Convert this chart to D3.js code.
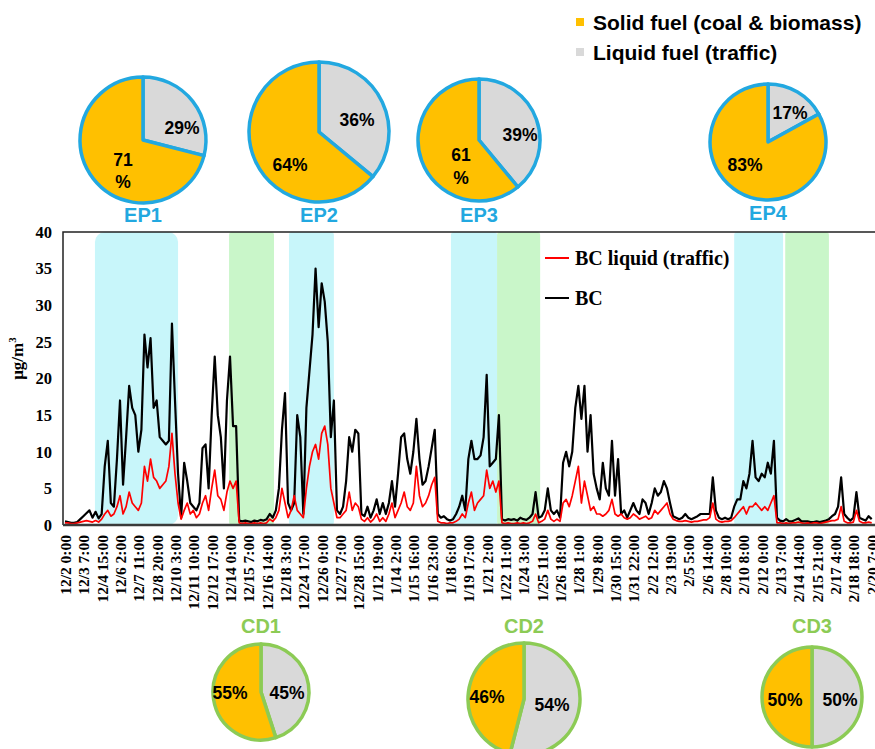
<!DOCTYPE html>
<html>
<head>
<meta charset="utf-8">
<script src="https://cdn.jsdelivr.net/npm/d3@7"></script>
<style>
  body { margin: 0; background: #fff; }
  svg { display: block; }
  .serif { font-family: "Liberation Serif", "Times New Roman", serif; font-weight: bold; }
  .sans { font-family: "Liberation Sans", Arial, sans-serif; font-weight: bold; }
</style>
</head>
<body>
<div id="chart"></div>
<script>
/* DATA */
// x tick labels, one every 6 samples
const timeLabels = ["12/2 0:00","12/3 7:00","12/4 15:00","12/6 2:00","12/7 11:00","12/8 20:00","12/10 3:00",
  "12/11 10:00","12/12 17:00","12/14 0:00","12/15 7:00","12/16 14:00","12/18 3:00","12/24 17:00","12/26 0:00",
  "12/27 7:00","12/28 15:00","1/12 19:00","1/14 2:00","1/15 16:00","1/16 23:00","1/18 6:00","1/19 17:00",
  "1/21 2:00","1/22 11:00","1/24 3:00","1/25 11:00","1/26 18:00","1/28 1:00","1/29 8:00","1/30 15:00",
  "1/31 22:00","2/2 12:00","2/3 19:00","2/5 5:00","2/6 14:00","2/8 10:00","2/10 8:00","2/12 0:00",
  "2/13 7:00","2/14 14:00","2/15 21:00","2/17 4:00","2/18 18:00","2/20 7:00"];

// BC total, ug/m3 (sample index 0..264)
const bcTotal = [
  0.5,0.4,0.3,0.3,0.4,0.8,1.2,1.6,2.0,1.0,1.8,0.9,1.5,8,11.5,3,2.5,9,17,5.5,
  12,19,16,15,10,13,26,21.5,25.5,16,17,12,11.5,11,11.5,27.5,17,7,1,8.5,
  6,3,2.5,2,3,10.5,11,5,15,23,15,12,5,17,23,13.5,13.5,0.6,0.5,0.6,
  0.5,0.4,0.6,0.5,0.7,0.6,0.8,1.5,1,2,5,13,18,3,2,3,15,12,1.5,16,
  21,26,35,27,33,30.5,25,12,17,2,1.5,2.5,6,12,10,13,12.5,1.5,1.2,2.5,
  1,2,3.5,1.5,3,1.5,3,6,2.5,7,12,12.5,9,7,10,14.5,9,5.5,6,8,
  10.5,13,1.5,1,1.2,0.8,0.6,0.8,1.5,2.5,4,2,9,11.5,9,9,9.5,12,20.5,8,
  8.5,9,15,0.8,0.6,0.8,0.7,0.8,0.6,1,0.8,0.7,1,1.5,4.5,1,1.2,2,5,2,
  1.5,2,1,8.5,10,8,10,16,19,14.5,19,10,15,7,5,3.5,8.5,5,4,11.5,
  4,9,1.5,2,1,2,3,2,1.5,3.5,3,1.5,3,5,4,4.5,6,5,3,1.2,
  1,0.8,1,1.5,1,0.8,1,1.2,1.5,1.5,1.5,1.5,6.5,2,1,0.8,1,0.8,1,2.5,
  3.5,3.5,6,5,7,11.5,6.5,6,7,6.5,8.5,7,11.5,1,0.6,0.5,0.8,0.5,0.5,0.7,
  0.9,0.5,0.5,0.5,0.4,0.4,0.5,0.4,0.5,0.6,0.8,1.2,1.5,2.5,6.5,1.5,1,0.6,1,4.5,
  1,0.8,0.6,1.2,0.8
];

// BC liquid (traffic), ug/m3
const bcLiquid = [
  0.3,0.3,0.2,0.2,0.3,0.4,0.5,0.6,0.5,0.4,0.6,0.4,0.8,1.5,2,1.2,1.5,2.5,4,1.5,
  2.5,4.5,3,2.5,2,3,8,6,9,6.5,6,5,5.5,6,8,12.5,7,3,0.8,2,
  3,1.5,2,1,1.5,3,4,2,5,7.5,4,3.5,2,4.5,6,5,6,0.3,0.2,0.3,
  0.2,0.2,0.3,0.2,0.3,0.2,0.3,0.8,0.5,1,2,5,3,1,2,4,2,1.5,1,5,
  8,10,11,9,12.5,13.5,11,5,3,1,1,1.5,2,4.5,2,3,2.5,0.8,0.5,1,
  0.4,0.8,1.5,0.5,1,0.5,1.5,3,1,2,3,4.5,2.5,2,3,8,4,2.5,3,4,
  5.5,6.5,0.5,0.3,0.3,0.2,0.3,0.3,0.5,0.8,1.5,1,3,4.5,2,3,3.5,4,7.5,5,
  6,4.5,6,0.3,0.2,0.3,0.2,0.2,0.3,0.2,0.3,0.2,0.3,0.5,1.5,0.3,0.5,0.8,2,0.8,
  0.5,0.8,0.5,3,3.5,2.5,4,6,8,3,6,4,2,2.5,1.5,1.5,1.2,1.5,2,3.5,
  1.5,1.2,1.5,1,0.8,1,1.5,1.2,0.8,1,1.2,0.8,1,2,1.5,2,2.5,3,1.5,0.8,
  0.6,0.5,0.5,0.6,0.5,0.4,0.5,0.5,0.6,0.7,0.7,1,3,0.8,0.5,0.4,0.5,0.5,0.6,1,
  1.5,2,2.5,1.5,2.5,2.5,3,2.5,2,2.5,2,3,4,0.3,0.3,0.2,0.3,0.2,0.3,0.3,
  0.4,0.3,0.2,0.3,0.2,0.3,0.3,0.2,0.3,0.4,0.5,0.6,0.6,0.8,2.5,0.5,0.3,0.3,0.4,2,
  0.5,0.3,0.3,0.4,0.3
];

// shaded episodes (sample index ranges)
const epRanges = [[9.8, 37], [73.3, 88], [126.3, 141.4], [219, 235]];
const cdRanges = [[53.7, 68.4], [141.4, 155.5], [235.7, 250]];

// pie shares, %
const epNames = ["EP1", "EP2", "EP3", "EP4"];
const epSolid = [71, 64, 61, 83];
const epLiquid = [29, 36, 39, 17];
const cdNames = ["CD1", "CD2", "CD3"];
const cdSolid = [55, 46, 50];
const cdLiquid = [45, 54, 50];

const seriesNames = ["BC liquid (traffic)", "BC"];
const fuelNames = ["Solid fuel (coal & biomass)", "Liquid fuel (traffic)"];

/* CONSTANTS */
const width = 875, height = 749;
const margin = { top: 232, bottom: 225, left: 63, right: -8 };
const solidColor = "#FFC000", liquidColor = "#D9D9D9";
const epColor = "#22A8E0", cdColor = "#8CCB55";
const cyan = "#C8F6FA", green = "#C9F6C9";

const svg = d3.select("#chart").append("svg")
  .attr("width", width)
  .attr("height", height);

const xScale = d3.scaleLinear()
  .domain([0, bcTotal.length - 1])
  .range([65, 871.7]);

const yScale = d3.scaleLinear()
  .domain([0, 40])
  .range([height - margin.bottom + 1, margin.top]);

const plotRight = width - margin.right;

// shaded bands
svg.append("g").selectAll("rect.ep")
  .data(epRanges)
  .join("rect")
  .attr("x", d => xScale(d[0]))
  .attr("width", d => xScale(d[1]) - xScale(d[0]))
  .attr("y", yScale(40))
  .attr("height", yScale(0) - yScale(40))
  .attr("rx", (d, i) => i === 0 ? 10 : 3)
  .attr("fill", cyan);

svg.append("g").selectAll("rect.cd")
  .data(cdRanges)
  .join("rect")
  .attr("x", d => xScale(d[0]))
  .attr("width", d => xScale(d[1]) - xScale(d[0]))
  .attr("y", yScale(40))
  .attr("height", yScale(0) - yScale(40))
  .attr("rx", 3)
  .attr("fill", green);

// lines
const line = d3.line()
  .x((d, i) => xScale(i))
  .y(d => yScale(d));

svg.append("path")
  .datum(bcTotal)
  .attr("fill", "none")
  .attr("stroke", "#000")
  .attr("stroke-width", 2.2)
  .attr("stroke-linejoin", "round")
  .attr("d", line);

svg.append("path")
  .datum(bcLiquid)
  .attr("fill", "none")
  .attr("stroke", "#FF0000")
  .attr("stroke-width", 1.7)
  .attr("stroke-linejoin", "round")
  .attr("d", line);

// frame (top + left), right side runs off the picture
svg.append("path")
  .attr("d", `M${margin.left},${yScale(0)}V${yScale(40)}H${plotRight}`)
  .attr("fill", "none")
  .attr("stroke", "#222")
  .attr("stroke-width", 1.5);

// axes
const xAxis = d3.axisBottom(xScale)
  .tickValues(timeLabels.map((d, i) => i * 6))
  .tickFormat((d, i) => timeLabels[i])
  .tickSize(0);

const gx = svg.append("g")
  .attr("class", "serif")
  .attr("transform", `translate(0,${yScale(0)})`)
  .call(xAxis);
gx.select(".domain").remove();
gx.selectAll("text")
  .attr("transform", "rotate(-90)")
  .attr("x", -10)
  .attr("y", 0)
  .attr("dy", "0.35em")
  .style("text-anchor", "end")
  .style("font-size", "15.5px")
  .style("font-family", "Liberation Serif, serif")
  .style("font-weight", "bold")
  .attr("fill", "#000");

svg.append("line")
  .attr("x1", margin.left).attr("x2", plotRight)
  .attr("y1", yScale(0)).attr("y2", yScale(0))
  .attr("stroke", "#3a3a3a")
  .attr("stroke-width", 2.5);

const yAxis = d3.axisLeft(yScale).ticks(8).tickSize(0).tickPadding(11);
const gy = svg.append("g")
  .attr("transform", `translate(${margin.left},0)`)
  .call(yAxis);
gy.select(".domain").remove();
gy.selectAll("text")
  .style("font-size", "16.5px")
  .style("font-family", "Liberation Serif, serif")
  .style("font-weight", "bold")
  .attr("fill", "#000");

const yLab = svg.append("text")
  .attr("class", "serif")
  .attr("transform", `translate(23,${yScale(20) - 20}) rotate(-90)`)
  .attr("text-anchor", "middle")
  .style("font-size", "17px");
yLab.append("tspan").text("μg/m");
yLab.append("tspan").attr("dy", -7).style("font-size", "11px").text("3");

// line legend
const lineLegend = svg.append("g").selectAll("g")
  .data(seriesNames)
  .join("g")
  .attr("transform", (d, i) => `translate(545,${258 + i * 40})`);
lineLegend.append("line")
  .attr("x1", 0).attr("x2", 24)
  .attr("stroke", (d, i) => i === 0 ? "#FF0000" : "#000")
  .attr("stroke-width", 2);
lineLegend.append("text")
  .attr("class", "serif")
  .attr("x", 30)
  .attr("dy", "0.33em")
  .style("font-size", "20px")
  .text(d => d);

// fuel legend
const fuelLegend = svg.append("g").selectAll("g")
  .data(fuelNames)
  .join("g")
  .attr("transform", (d, i) => `translate(576,${22 + i * 30})`);
fuelLegend.append("rect")
  .attr("x", 0).attr("y", -4)
  .attr("width", 8).attr("height", 8)
  .attr("fill", (d, i) => i === 0 ? solidColor : liquidColor);
fuelLegend.append("text")
  .attr("class", "sans")
  .attr("x", 17)
  .attr("dy", "0.36em")
  .style("font-size", "21px")
  .text(d => d);

// pies
const pie = d3.pie().sort(null).value(d => d.v);
const epLayout = [
  { cx: 143, cy: 140, r: 63, lab: [[-20, 20, 42], [39, -12]], ty: 222 },
  { cx: 319, cy: 132, r: 70, lab: [[-29, 33], [38, -12]], ty: 222 },
  { cx: 479, cy: 140, r: 61, lab: [[-18, 15, 38], [41, -5]], ty: 222 },
  { cx: 768, cy: 142, r: 58, lab: [[-23, 23], [22, -29]], ty: 220 }
];
const cdLayout = [
  { cx: 261, cy: 692, r: 48, lab: [[-31, 1], [26, 1]], ty: 633 },
  { cx: 524, cy: 699, r: 56, lab: [[-37, -2], [28, 6]], ty: 633 },
  { cx: 812, cy: 697, r: 50, lab: [[-27, 3], [28, 3]], ty: 633 }
];

function drawPie(name, solid, liquid, lay, border) {
  const g = svg.append("g").attr("transform", `translate(${lay.cx},${lay.cy})`);
  const slices = pie([{ k: "liquid", v: liquid }, { k: "solid", v: solid }]);
  const arc = d3.arc().innerRadius(0).outerRadius(lay.r);
  g.selectAll("path")
    .data(slices)
    .join("path")
    .attr("d", arc)
    .attr("fill", d => d.data.k === "solid" ? solidColor : liquidColor)
    .attr("stroke", border)
    .attr("stroke-width", 3.5)
    .attr("stroke-linejoin", "round");

  // solid label (may wrap into two lines)
  const s = lay.lab[0];
  const sText = s.length === 3 ? [String(solid), "%"] : [solid + "%"];
  sText.forEach((t, i) => {
    g.append("text").attr("class", "sans")
      .attr("x", s[0]).attr("y", s[1 + i])
      .attr("dy", "0.35em")
      .attr("text-anchor", "middle")
      .style("font-size", "17.5px")
      .text(t);
  });
  const l = lay.lab[1];
  g.append("text").attr("class", "sans")
    .attr("x", l[0]).attr("y", l[1])
    .attr("dy", "0.35em")
    .attr("text-anchor", "middle")
    .style("font-size", "17.5px")
    .text(liquid + "%");

  svg.append("text").attr("class", "sans")
    .attr("x", lay.cx).attr("y", lay.ty)
    .attr("text-anchor", "middle")
    .attr("fill", border)
    .style("font-size", "20px")
    .text(name);
}

epNames.forEach((n, i) => drawPie(n, epSolid[i], epLiquid[i], epLayout[i], epColor));
cdNames.forEach((n, i) => drawPie(n, cdSolid[i], cdLiquid[i], cdLayout[i], cdColor));
</script>
</body>
</html>
